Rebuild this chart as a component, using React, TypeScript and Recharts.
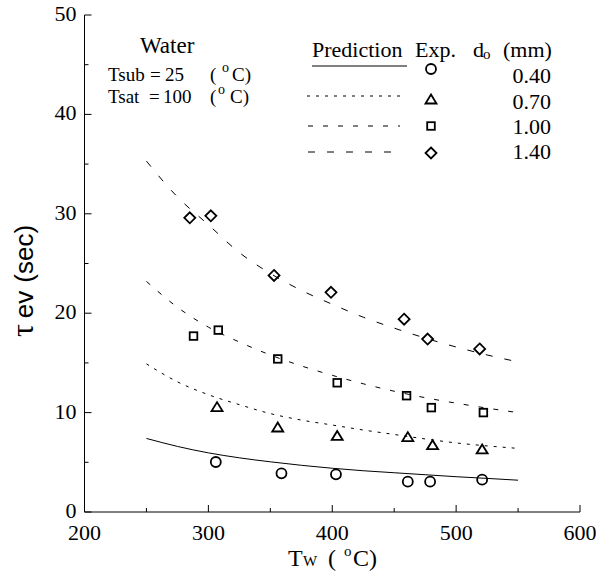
import React from 'react';
import { ComposedChart, Line, Scatter, XAxis, YAxis } from 'recharts';

// prediction curves, Tw in degC
const predTemps = [250, 275, 300, 325, 350, 375, 400, 425, 450, 475, 500, 525, 550];
const pred040 = [7.4, 6.6, 5.95, 5.45, 5.05, 4.7, 4.4, 4.15, 3.95, 3.75, 3.55, 3.38, 3.2];
const pred070 = [14.9, 13.1, 11.8, 10.8, 9.9, 9.25, 8.75, 8.25, 7.8, 7.35, 6.95, 6.65, 6.4];
const pred100 = [23.2, 20.6, 18.6, 17.1, 15.8, 14.7, 13.75, 12.9, 12.15, 11.5, 10.95, 10.45, 10.0];
const pred140 = [35.3, 31.7, 28.9, 26.1, 24.0, 22.3, 20.9, 19.6, 18.5, 17.5, 16.6, 15.8, 15.1];

// experiments
const exp040T = [306, 359, 403, 461, 479, 521];
const exp040 = [5.03, 3.89, 3.79, 3.05, 3.05, 3.25];
const exp070T = [307, 356, 404, 461, 481, 521];
const exp070 = [10.5, 8.45, 7.6, 7.48, 6.67, 6.24];
const exp100T = [288, 308, 356, 404, 460, 480, 522];
const exp100 = [17.7, 18.3, 15.4, 13.0, 11.7, 10.5, 10.0];
const exp140T = [285, 302, 353, 399, 458, 477, 519];
const exp140 = [29.6, 29.8, 23.8, 22.1, 19.4, 17.4, 16.4];

const xTicks = [200, 250, 300, 350, 400, 450, 500, 550, 600];
const yTicks = [0, 5, 10, 15, 20, 25, 30, 35, 40, 45, 50];

const SERIF = 'Liberation Serif';
const SANS = 'Liberation Sans';

const pairs = (xs: number[], ys: number[]) => xs.map((x, i) => ({ x, y: ys[i] }));

const SW = 1.8;
const Circle = ({ cx, cy }: any) => <circle cx={cx} cy={cy} r={5} fill="none" stroke="#000" strokeWidth={SW} />;
const Triangle = ({ cx, cy }: any) => (
  <path d={`M${cx},${cy - 5.5}L${cx + 5.5},${cy + 3.5}L${cx - 5.5},${cy + 3.5}Z`} fill="none" stroke="#000" strokeWidth={SW} />
);
const Square = ({ cx, cy }: any) => <rect x={cx - 3.8} y={cy - 3.8} width={7.6} height={7.6} fill="none" stroke="#000" strokeWidth={SW} />;
const Diamond = ({ cx, cy }: any) => (
  <path d={`M${cx},${cy - 5.5}L${cx + 5.5},${cy}L${cx},${cy + 5.5}L${cx - 5.5},${cy}Z`} fill="none" stroke="#000" strokeWidth={SW} />
);

const BottomTick = ({ x, y, payload }: any) => {
  const major = payload.value % 100 === 0;
  return (
    <g>
      <line x1={x} x2={x} y1={y} y2={y - (major ? 7 : 4)} stroke="#000" />
      {major && (
        <text x={x} y={y + 28} textAnchor="middle" fontSize={22} style={{ fontFamily: SERIF }} fill="#000">
          {payload.value}
        </text>
      )}
    </g>
  );
};
const TopTick = ({ x, y, payload }: any) => {
  const major = payload.value % 100 === 0;
  return <line x1={x} x2={x} y1={y} y2={y + (major ? 7 : 4)} stroke="#000" />;
};
const LeftTick = ({ x, y, payload }: any) => {
  const major = payload.value % 10 === 0;
  return (
    <g>
      <line x1={x} x2={x + (major ? 7 : 4)} y1={y} y2={y} stroke="#000" />
      {major && (
        <text x={x - 8} y={y + 6} textAnchor="end" fontSize={22} style={{ fontFamily: SERIF }} fill="#000">
          {payload.value}
        </text>
      )}
    </g>
  );
};
const RightTick = ({ x, y, payload }: any) => {
  const major = payload.value % 10 === 0;
  return <line x1={x} x2={x - (major ? 7 : 4)} y1={y} y2={y} stroke="#000" />;
};

export default function App() {
  return (
    <div style={{ position: 'absolute', left: 0, top: 0, width: 596, height: 573, background: '#fff' }}>
      <ComposedChart width={596} height={573} margin={{ top: 15, right: 16, bottom: 0, left: 24.5 }}>
        <XAxis
          xAxisId="b"
          type="number"
          dataKey="x"
          domain={[200, 600]}
          ticks={xTicks}
          interval={0}
          height={61}
          tickSize={0}
          tickMargin={0}
          tickLine={false}
          axisLine={{ stroke: '#000' }}
          tick={BottomTick}
        />
        <XAxis
          xAxisId="t"
          orientation="top"
          type="number"
          dataKey="x"
          domain={[200, 600]}
          ticks={xTicks}
          interval={0}
          height={0}
          tickSize={0}
          tickMargin={0}
          tickLine={false}
          axisLine={{ stroke: '#000' }}
          tick={TopTick}
        />
        <YAxis
          yAxisId="l"
          type="number"
          domain={[0, 50]}
          ticks={yTicks}
          interval={0}
          width={60}
          tickSize={0}
          tickMargin={0}
          tickLine={false}
          axisLine={{ stroke: '#000' }}
          tick={LeftTick}
        />
        <YAxis
          yAxisId="r"
          orientation="right"
          type="number"
          domain={[0, 50]}
          ticks={yTicks}
          interval={0}
          width={0}
          tickSize={0}
          tickMargin={0}
          tickLine={false}
          axisLine={{ stroke: '#000' }}
          tick={RightTick}
        />
        <Line xAxisId="b" yAxisId="l" data={pairs(predTemps, pred040)} dataKey="y" type="monotone" stroke="#000" strokeWidth={1} dot={false} isAnimationActive={false} />
        <Line xAxisId="b" yAxisId="l" data={pairs(predTemps, pred070)} dataKey="y" type="monotone" stroke="#000" strokeWidth={1} strokeDasharray="3 6" dot={false} isAnimationActive={false} />
        <Line xAxisId="b" yAxisId="l" data={pairs(predTemps, pred100)} dataKey="y" type="monotone" stroke="#000" strokeWidth={1} strokeDasharray="5 10" dot={false} isAnimationActive={false} />
        <Line xAxisId="b" yAxisId="l" data={pairs(predTemps, pred140)} dataKey="y" type="monotone" stroke="#000" strokeWidth={1} strokeDasharray="7 12" dot={false} isAnimationActive={false} />
        <Scatter xAxisId="b" yAxisId="l" data={pairs(exp040T, exp040)} dataKey="y" shape={Circle} isAnimationActive={false} />
        <Scatter xAxisId="b" yAxisId="l" data={pairs(exp070T, exp070)} dataKey="y" shape={Triangle} isAnimationActive={false} />
        <Scatter xAxisId="b" yAxisId="l" data={pairs(exp100T, exp100)} dataKey="y" shape={Square} isAnimationActive={false} />
        <Scatter xAxisId="b" yAxisId="l" data={pairs(exp140T, exp140)} dataKey="y" shape={Diamond} isAnimationActive={false} />
      </ComposedChart>
      <svg width={596} height={573} style={{ position: 'absolute', left: 0, top: 0, pointerEvents: 'none', fontFamily: SERIF }}>
        <g fill="#000">
          {/* axis titles */}
          <text y={566} fontSize={24}>
            <tspan x={288}>T</tspan>
            <tspan x={303} fontSize={15}>W</tspan>
            <tspan x={328}>(</tspan>
            <tspan x={344} dy={-10} fontSize={15}>o</tspan>
            <tspan x={353} dy={10}>C)</tspan>
          </text>
          <text transform="translate(33,337) rotate(-90)" fontSize={26} style={{ fontFamily: SANS }}>
            <tspan style={{ fontFamily: SERIF }} fontSize={32}>τ</tspan>
            <tspan dx={6}>ev</tspan>
            <tspan dx={8}>(sec)</tspan>
          </text>
          {/* left note */}
          <text x={140} y={53} fontSize={23}>Water</text>
          <g fontSize={19}>
            <text x={108} y={81}>Tsub</text>
            <text x={150} y={81}>=</text>
            <text x={165} y={81}>25</text>
            <text x={210} y={81}>(</text>
            <text x={222} y={72} fontSize={14}>o</text>
            <text x={232} y={81}>C)</text>
            <text x={108} y={103}>Tsat</text>
            <text x={149} y={103}>=</text>
            <text x={163} y={103}>100</text>
            <text x={210} y={103}>(</text>
            <text x={218} y={94} fontSize={14}>o</text>
            <text x={230} y={103}>C)</text>
          </g>
          {/* legend */}
          <g fontSize={22}>
            <text x={312} y={57}>Prediction</text>
            <text x={415} y={57}>Exp.</text>
            <text x={473} y={57}>d</text>
            <text x={483} y={59} fontSize={15}>o</text>
            <text x={503} y={57}>(mm)</text>
            <text x={551} y={83} textAnchor="end">0.40</text>
            <text x={551} y={109} textAnchor="end">0.70</text>
            <text x={551} y={134} textAnchor="end">1.00</text>
            <text x={551} y={159} textAnchor="end">1.40</text>
          </g>
          <line x1={312} x2={407} y1={66} y2={66} stroke="#000" strokeWidth={1} />
          <line x1={307} x2={400} y1={96} y2={96} stroke="#000" strokeWidth={1} strokeDasharray="3 6" />
          <line x1={308} x2={400} y1={126} y2={126} stroke="#000" strokeWidth={1} strokeDasharray="5 10" />
          <line x1={308} x2={395} y1={152} y2={152} stroke="#000" strokeWidth={1} strokeDasharray="7 12" />
          <Circle cx={431} cy={69} />
          <Triangle cx={431} cy={100} />
          <Square cx={431} cy={126} />
          <Diamond cx={431} cy={153} />
        </g>
      </svg>
    </div>
  );
}
